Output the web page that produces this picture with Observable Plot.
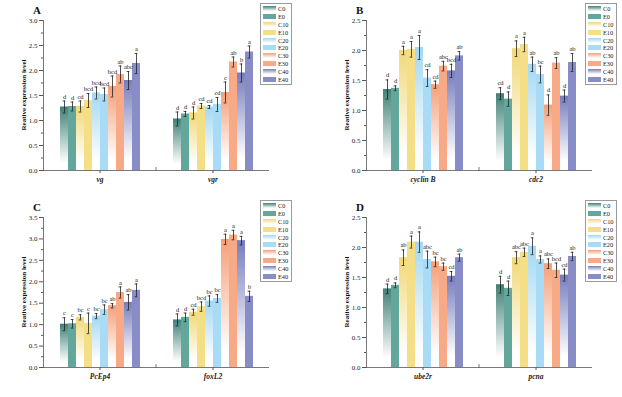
<!DOCTYPE html>
<html><head><meta charset="utf-8">
<script src="https://cdn.jsdelivr.net/npm/d3@7"></script>
<script src="https://cdn.jsdelivr.net/npm/@observablehq/plot@0.6"></script>
<style>
body{margin:0;background:#fff;}
#wrap{position:relative;width:622px;height:397px;font-family:"Liberation Serif","Times New Roman",serif;overflow:hidden;background:#fff;}
.panel{position:absolute;}
.plabel{position:absolute;font-weight:bold;font-size:11px;line-height:11px;color:#111;}
.ytitle{position:absolute;font-weight:bold;font-size:7px;line-height:7px;color:#111;white-space:nowrap;transform:translate(-50%,-50%) rotate(-90deg);}
.legend{position:absolute;border:1px solid #9a9a9a;background:#fff;padding:1px 2px 1px 2px;font-size:6.3px;color:#222;}
.legend .row{display:flex;align-items:center;height:7.8px;}
.legend .sw{width:13px;height:5px;margin-right:2px;}
</style>
</head><body>
<div id="wrap"></div>
<script>
// ---- data ----
const series = ["C0","E0","C10","E10","C20","E20","C30","E30","C40","E40"];
const barColors = ["#3f8076","#63a69c","#f1d877","#f5df86","#a3d8f3","#a8dcf6","#f59f78","#f8aa86","#767cbd","#888dc8"];

const genesA = ["vg","vgr"];
const valA_vg  = [1.27,1.28,1.28,1.40,1.55,1.52,1.68,1.92,1.80,2.14];
const errA_vg  = [0.12,0.09,0.11,0.14,0.12,0.13,0.21,0.17,0.18,0.20];
const sigA_vg  = ["d","d","cd","bcd","bcd","bcd","bcd","ab","abc","a"];
const valA_vgr = [1.03,1.13,1.15,1.29,1.27,1.32,1.56,2.17,1.95,2.37];
const errA_vgr = [0.14,0.05,0.12,0.05,0.03,0.14,0.21,0.10,0.18,0.12];
const sigA_vgr = ["d","d","d","cd","cd","cd","c","ab","b","a"];

const genesB = ["cyclin B","cdc2"];
const valB_cyc = [1.35,1.37,2.00,2.02,2.05,1.54,1.43,1.74,1.66,1.91];
const errB_cyc = [0.16,0.04,0.07,0.13,0.20,0.14,0.06,0.08,0.11,0.07];
const sigB_cyc = ["d","d","a","a","a","cd","cd","abc","bcd","ab"];
const valB_cdc = [1.28,1.19,2.03,2.10,1.77,1.60,1.09,1.79,1.24,1.80];
const errB_cdc = [0.10,0.12,0.13,0.12,0.12,0.14,0.17,0.09,0.10,0.15];
const sigB_cdc = ["cd","d","a","a","ab","bc","d","ab","d","ab"];

const genesC = ["PcEp4","foxL2"];
const valC_pce = [1.01,1.02,1.17,1.03,1.20,1.35,1.44,1.75,1.52,1.80];
const errC_pce = [0.15,0.10,0.06,0.24,0.06,0.11,0.05,0.13,0.18,0.15];
const sigC_pce = ["c","c","bc","c","bc","bc","ab","a","ab","a"];
const valC_fox = [1.11,1.17,1.29,1.42,1.55,1.61,2.99,3.09,2.96,1.66];
const errC_fox = [0.14,0.10,0.07,0.11,0.12,0.09,0.12,0.11,0.10,0.12];
const sigC_fox = ["d","d","cd","bcd","bc","bc","a","a","a","b"];

const genesD = ["ube2r","pcna"];
const valD_ube = [1.31,1.37,1.83,2.09,2.09,1.80,1.76,1.68,1.52,1.83];
const errD_ube = [0.08,0.04,0.13,0.10,0.17,0.14,0.08,0.06,0.08,0.06];
const sigD_ube = ["d","d","ab","a","a","abc","bc","bc","cd","ab"];
const valD_pcn = [1.38,1.32,1.83,1.92,2.02,1.80,1.73,1.62,1.54,1.85];
const errD_pcn = [0.14,0.12,0.10,0.07,0.14,0.06,0.08,0.12,0.10,0.07];
const sigD_pcn = ["d","d","abc","abc","a","a","abc","bcd","cd","ab"];

const yLabel = "Reative expression level";

// ---- gradients (shared defs) ----
const isControl = s => s.startsWith("C");
const defsSvg = d3.select("body").append("svg").attr("width",0).attr("height",0).style("position","absolute");
const defs = defsSvg.append("defs");
series.forEach((s,i) => {
  if (!isControl(s)) return;
  const g = defs.append("linearGradient").attr("id","grad"+i).attr("x1",0).attr("y1",0).attr("x2",0).attr("y2",1);
  g.append("stop").attr("offset","0").attr("stop-color",barColors[i]);
  g.append("stop").attr("offset","0.88").attr("stop-color","#ffffff");
});
const fillOf = i => isControl(series[i]) ? `url(#grad${i})` : barColors[i];

function rows(genes, vals, errs, sigs) {
  const out = [];
  genes.forEach((g, gi) => series.forEach((s, i) => out.push({gene: g, series: s, v: vals[gi][i], e: errs[gi][i], sig: sigs[gi][i], fill: fillOf(i)})));
  return out;
}

const panels = [
  {key:"A", left:0,   top:0,   h:197, ml:43, mr:42, yMax:3.0, genes:genesA, data: rows(genesA,[valA_vg,valA_vgr],[errA_vg,errA_vgr],[sigA_vg,sigA_vgr])},
  {key:"B", left:311, top:0,   h:197, ml:55, mr:30, yMax:2.5, genes:genesB, data: rows(genesB,[valB_cyc,valB_cdc],[errB_cyc,errB_cdc],[sigB_cyc,sigB_cdc])},
  {key:"C", left:0,   top:197, h:200, ml:43, mr:42, yMax:3.5, genes:genesC, data: rows(genesC,[valC_pce,valC_fox],[errC_pce,errC_fox],[sigC_pce,sigC_fox])},
  {key:"D", left:311, top:197, h:200, ml:55, mr:30, yMax:2.5, genes:genesD, data: rows(genesD,[valD_ube,valD_pcn],[errD_ube,errD_pcn],[sigD_ube,sigD_pcn])}
];

const wrap = d3.select("#wrap");
const ink = "#222";

panels.forEach(p => {
  const mb = p.h - 170;
  const chart = Plot.plot({
    width: 311, height: p.h,
    marginLeft: p.ml, marginRight: p.mr, marginTop: 20, marginBottom: mb,
    style: {fontFamily: "'Liberation Serif','Times New Roman',serif", fontSize: "7px", color: ink, background: "transparent", overflow: "visible"},
    fx: {domain: p.genes, padding: 0, label: null},
    x: {domain: series, paddingInner: 0, paddingOuter: 1.35, axis: null},
    y: {domain: [0, p.yMax], label: null},
    color: {type: "identity"},
    marks: [
      Plot.barY(p.data, {fx: "gene", x: "series", y: "v", fill: "fill"}),
      Plot.ruleX(p.data, {fx: "gene", x: "series", y1: d => d.v - d.e, y2: d => d.v + d.e, stroke: ink, strokeWidth: 0.8}),
      Plot.tickY(p.data, {fx: "gene", x: "series", y: d => d.v + d.e, stroke: ink, strokeWidth: 0.8, insetLeft: 2.6, insetRight: 2.6}),
      Plot.tickY(p.data, {fx: "gene", x: "series", y: d => d.v - d.e, stroke: ink, strokeWidth: 0.8, insetLeft: 2.6, insetRight: 2.6}),
      Plot.text(p.data, {fx: "gene", x: "series", y: d => d.v + d.e, text: "sig", dy: -4.5, fontSize: 6.5, fill: ink}),
      Plot.ruleY([0], {stroke: "#555", strokeWidth: 0.8}),
      Plot.frame({anchor: "left", facetAnchor: "left", stroke: "#555", strokeWidth: 0.8}),
      Plot.axisY({ticks: d3.range(0, p.yMax + 0.001, 0.5), tickFormat: d3.format(".1f"), tickSize: 4, tickPadding: 2, label: null, stroke: "#555"}),
      Plot.axisY({ticks: d3.range(0.25, p.yMax, 0.5), tickSize: 2, text: null, label: null, stroke: "#555"}),
      Plot.axisFx({anchor: "bottom", tickSize: 3, tickPadding: 3, label: null, fontStyle: "italic", fontWeight: "bold", fontSize: 7.5, stroke: "#555"})
    ]
  });
  // boundary tick between the two gene categories, at the middle of the fx range, on the x-axis baseline
  try {
    const r = chart.scale("fx").range, xb = (r[0] + r[1]) / 2;
    const y0 = chart.scale("y").range[0];
    d3.select(chart).append("line").attr("x1", xb).attr("x2", xb).attr("y1", y0 - 3).attr("y2", y0 + 1)
      .attr("stroke", "#555").attr("stroke-width", 0.8);
  } catch (e) {}
  wrap.append("div").attr("class","panel").style("left", p.left+"px").style("top", p.top+"px").node().appendChild(chart);
  wrap.append("div").attr("class","plabel").style("left", (p.left + p.ml - 10) + "px").style("top", (p.top + 5) + "px").text(p.key);
  wrap.append("div").attr("class","ytitle").style("left", (p.left + p.ml - 19) + "px").style("top", (p.top + 95) + "px").text(yLabel);

  // legend
  const lg = wrap.append("div").attr("class","legend").style("left", (p.left + (p.key==="A"||p.key==="C" ? 260 : 274)) + "px").style("top", (p.top + 3) + "px");
  series.forEach((s,i) => {
    const r = lg.append("div").attr("class","row");
    r.append("div").attr("class","sw").style("background", isControl(s) ? `linear-gradient(to bottom, ${barColors[i]} 0%, #ffffff 100%)` : barColors[i]);
    r.append("span").text(s);
  });
});
</script>
</body></html>
